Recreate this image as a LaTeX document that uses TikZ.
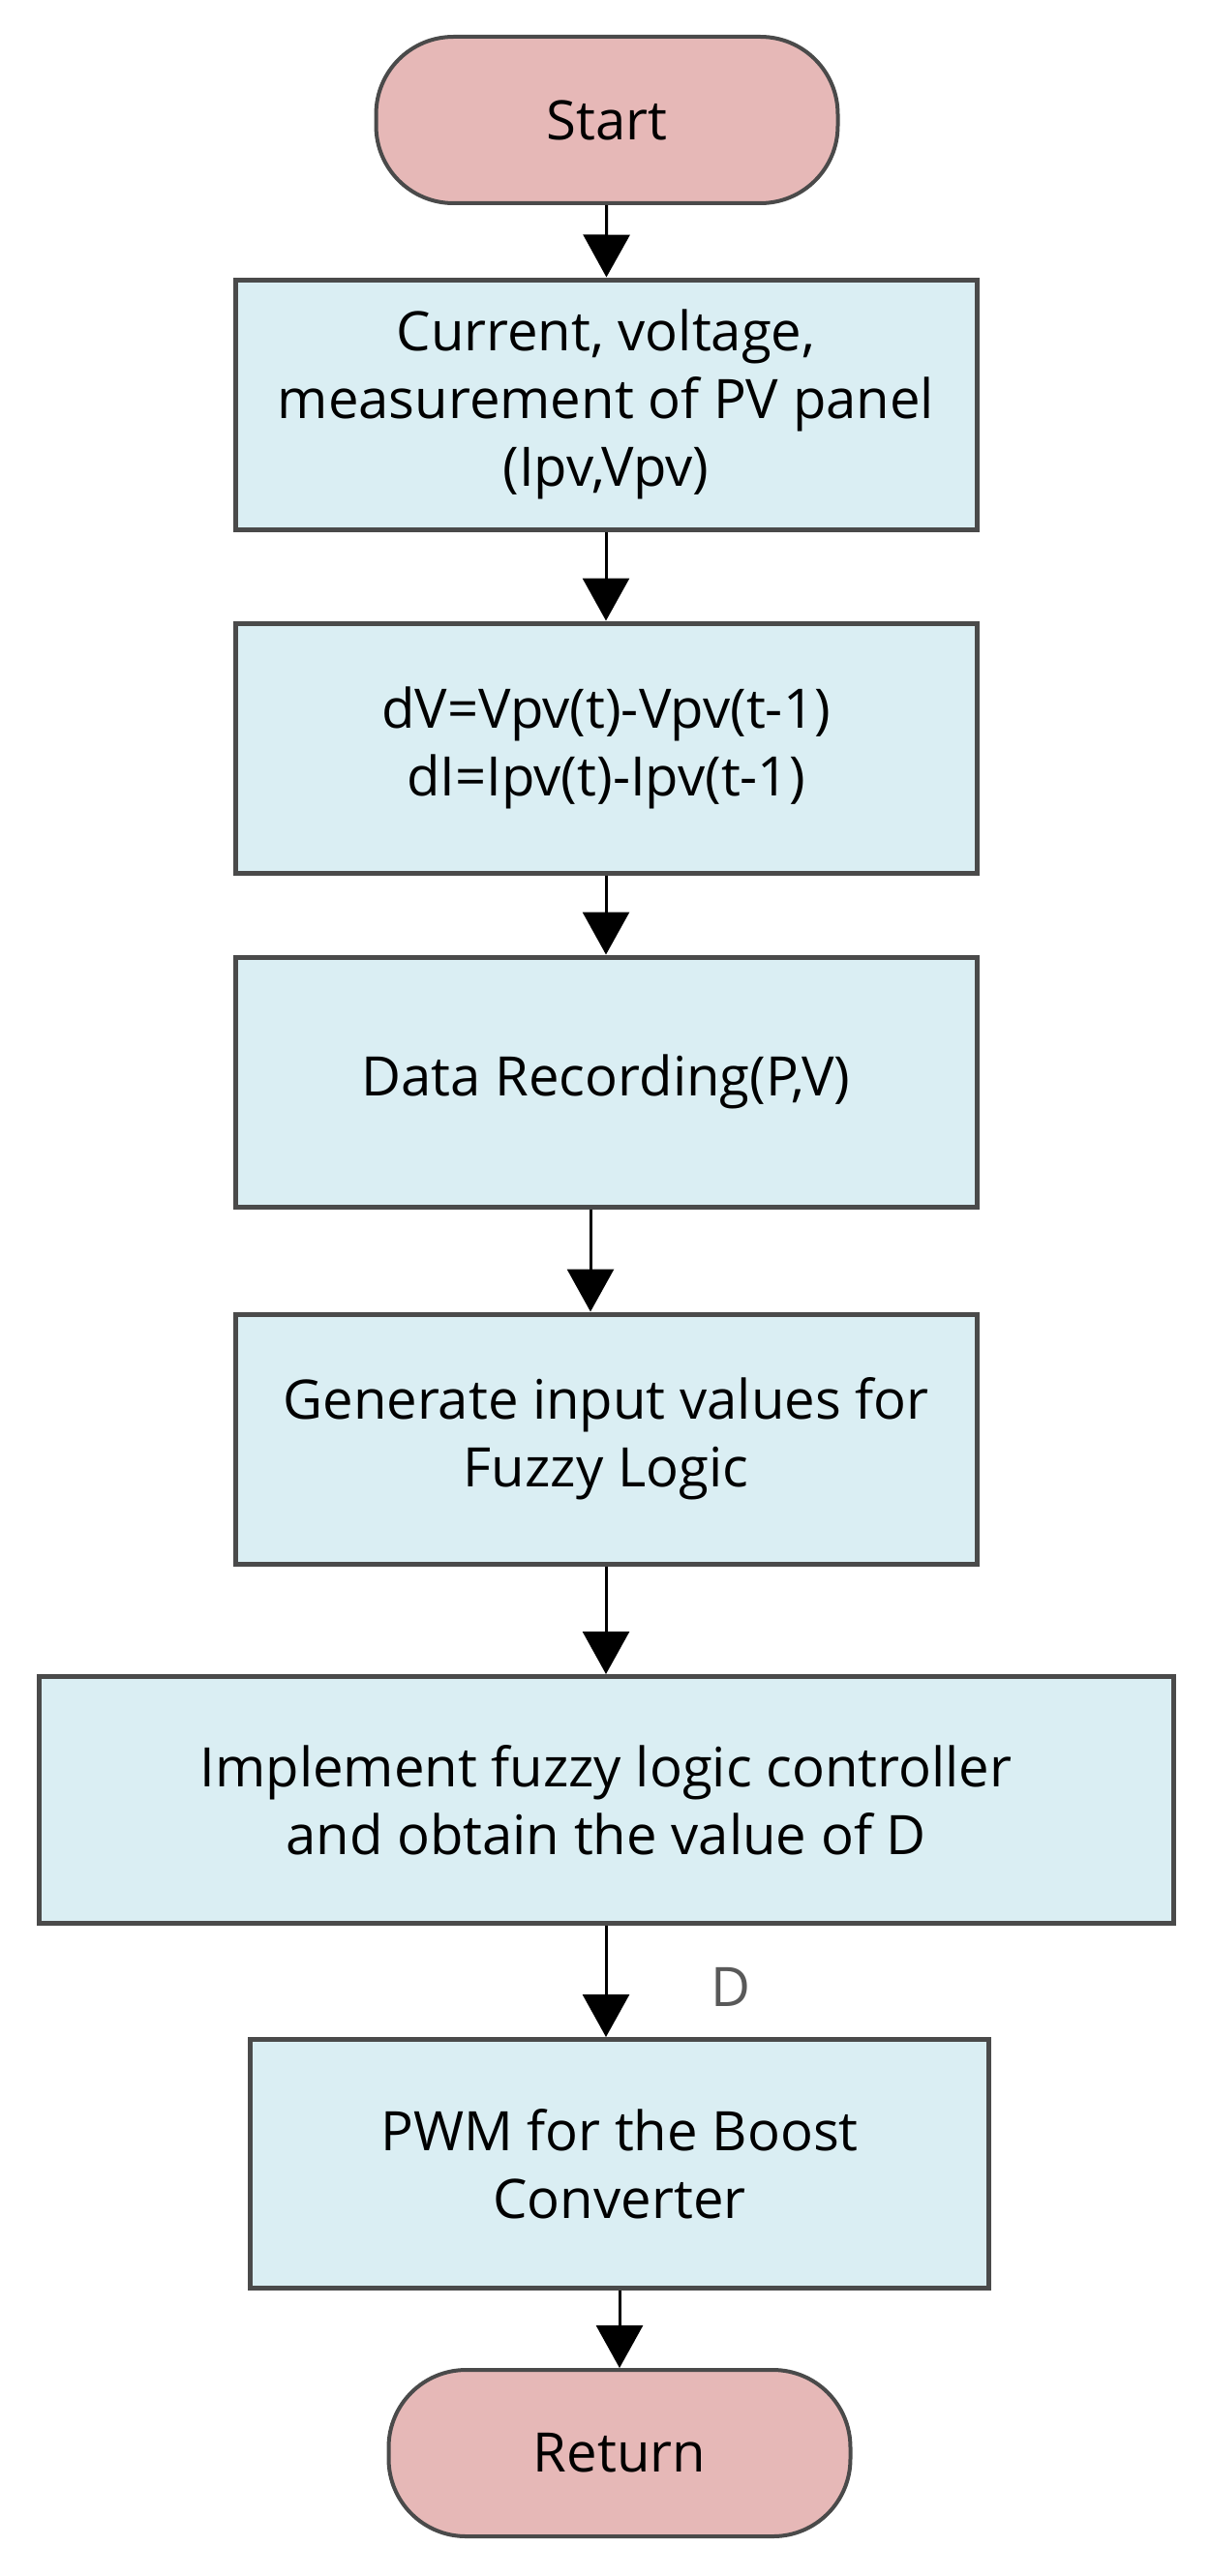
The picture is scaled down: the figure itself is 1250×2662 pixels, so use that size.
\documentclass[tikz,border=0pt]{standalone}
\usepackage{fontspec}
\setmainfont{Open Sans}
\usetikzlibrary{arrows.meta}
\definecolor{termfill}{HTML}{E6B8B7}
\definecolor{procfill}{HTML}{DAEEF3}
\definecolor{edgegray}{HTML}{4A4A4A}

\begin{document}
\begin{tikzpicture}[x=0.1mm, y=-0.1mm, line width=0.3mm,
    >={Triangle[width=4.8mm,length=4.4mm]},
    term/.style={draw=edgegray, fill=termfill, rounded corners=8mm, line width=0.4mm,
      minimum width=47.7mm, minimum height=17.2mm, font=\fontsize{16}{20}\selectfont},
    proc/.style={draw=edgegray, fill=procfill, line width=0.5mm, align=center,
      minimum width=76.6mm, minimum height=25.8mm, font=\fontsize{16}{20}\selectfont},
    dlab/.style={text=black!65, font=\fontsize{16}{20}\selectfont}]
    \useasboundingbox (0,0) rectangle (1250,2662);

    \node [term] (start) at (627 , 124) {Start};
    \node [proc] (meas) at (626 , 418) {Current, voltage,\\measurement of PV panel\\(Ipv,Vpv)};
    \node [proc] (diff) at (626 , 773) {dV=Vpv(t)-Vpv(t-1)\\dI=Ipv(t)-Ipv(t-1)};
    \node [proc] (rec) at (626 , 1118) {Data Recording(P,V)};
    \node [proc] (gen) at (626 , 1487) {Generate input values for\\Fuzzy Logic};
    \node [proc, minimum width=117.2mm, minimum height=25.5mm] (flc) at (626 , 1860) {Implement fuzzy logic controller\\and obtain the value of D};
    \node [proc, minimum width=76.3mm, minimum height=25.7mm] (pwm) at (640 , 2236) {PWM for the Boost\\Converter};
    \node [term] (ret) at (640 , 2535) {Return};
 \path[->]
      (start) edge (meas)
      (meas) edge (diff)
      (diff) edge (rec)
      ([xshift=-1.6mm]rec.south) edge ([xshift=-1.6mm]rec.south |- gen.north)
      (gen) edge (flc)
      (flc.south) edge node [dlab, right=9.5mm, pos=0.55] {D} (flc.south |- pwm.north)
      (pwm) edge (ret);
\end{tikzpicture}
\end{document}
